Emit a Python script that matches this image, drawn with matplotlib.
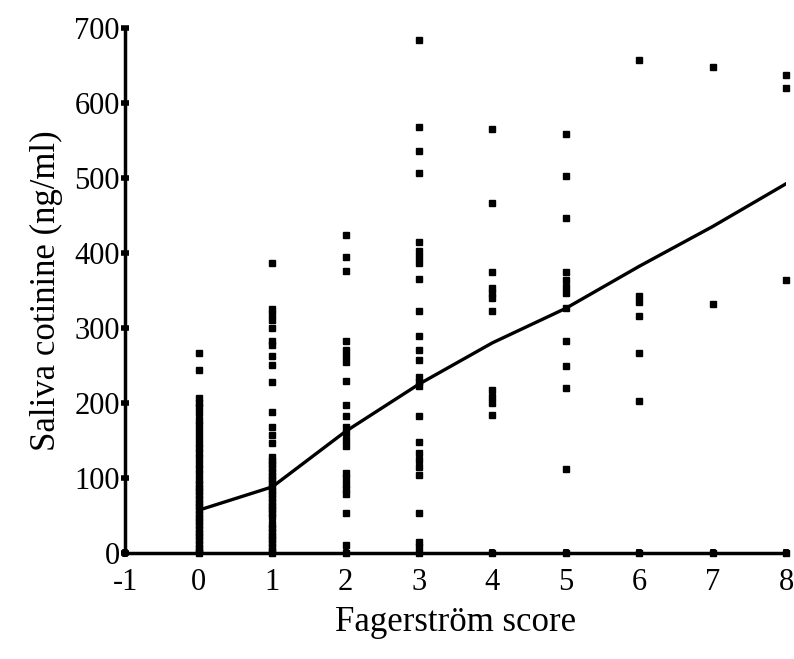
import matplotlib
matplotlib.use("Agg")
import matplotlib.pyplot as plt

plt.rcParams['font.family'] = ['Liberation Serif', 'DejaVu Serif']
plt.rcParams['axes.unicode_minus'] = False

# saliva cotinine (ng/ml) by Fagerström score
score0 = [267, 244, 206, 200, 194, 187, 177, 170, 163, 155, 146, 140, 133, 126, 119, 112, 105,
          97, 92, 87, 82, 77, 72, 67, 62, 57, 52, 47, 42, 37, 32, 27, 22, 17, 12, 7, 3, 0]
score1 = [386, 325, 318, 311, 300, 282, 277, 262, 251, 228, 188, 168, 157, 146,
          128, 123, 118, 113, 108, 103, 98, 93, 88, 83, 78, 73, 68, 63, 58, 53, 48,
          38, 33, 28, 23, 18, 13, 8, 3, 0]
score2 = [424, 395, 376, 282, 270, 262, 255, 229, 197, 182, 168, 160, 150, 142,
          107, 100, 92, 85, 78, 53, 11, 0]
score3 = [684, 568, 535, 506, 415, 402, 394, 386, 365, 322, 289, 271, 257, 235, 228, 222,
          182, 148, 133, 124, 115, 104, 53, 15, 8, 0]
score4 = [565, 466, 375, 353, 346, 340, 322, 217, 208, 200, 184, 0]
score5 = [558, 502, 446, 375, 364, 355, 346, 326, 283, 249, 220, 112, 0]
score6 = [657, 342, 335, 316, 266, 203, 0]
score7 = [647, 332, 0]
score8 = [637, 620, 364, 0]
groups = [score0, score1, score2, score3, score4, score5, score6, score7, score8]

# smoothed trend line
trend_x = [0, 1, 2, 3, 4, 5, 6, 7, 8]
trend_y = [57, 88, 162, 225, 280, 326, 382, 435, 492]

fig = plt.figure(figsize=(7.94, 6.59), dpi=100)
ax = fig.add_axes([0.158, 0.161, 0.832, 0.797])

for score, vals in enumerate(groups):
    ax.plot([score] * len(vals), vals, 's', color='black', markersize=4.5, clip_on=False)

ax.plot(trend_x, trend_y, '-', color='black', linewidth=2.4)

ax.set_xlim(-1, 8)
ax.set_ylim(0, 700)
ax.set_xticks(range(-1, 9))
ax.set_yticks(range(0, 701, 100))

ax.spines['top'].set_visible(False)
ax.spines['right'].set_visible(False)
ax.spines['left'].set_linewidth(2.5)
ax.spines['bottom'].set_linewidth(2.5)
ax.tick_params(axis='both', direction='inout', length=6, width=4, labelsize=22)
ax.tick_params(axis='x', pad=8)
ax.tick_params(axis='y', pad=1)

ax.set_ylabel('Saliva cotinine (ng/ml)', fontsize=25, labelpad=8)
ax.set_xlabel('Fagerström score', fontsize=25, labelpad=6)

fig.savefig('out.png', dpi=100)
